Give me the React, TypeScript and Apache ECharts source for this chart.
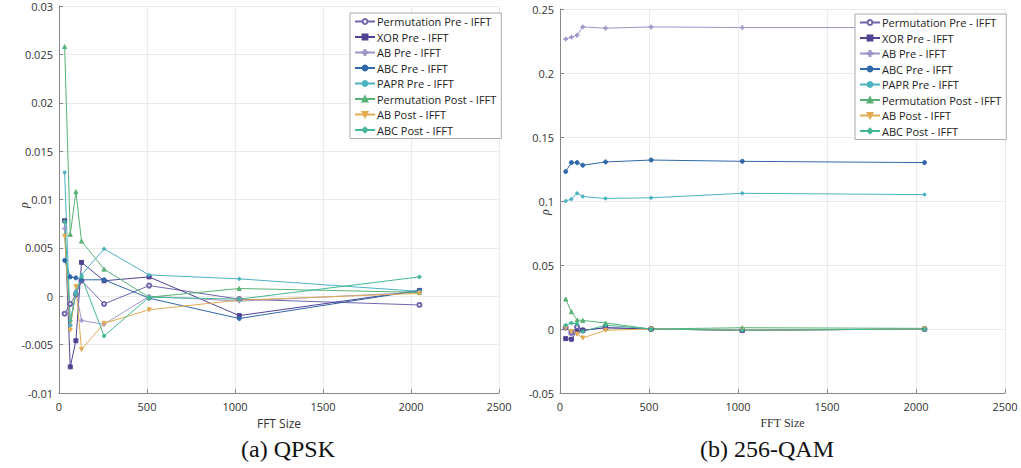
import React, { useEffect, useRef } from "react";
import * as echarts from "echarts";

const FFT_SIZES = [32, 64, 96, 128, 256, 512, 1024, 2048];
const SERIES_NAMES = [
  "Permutation Pre - IFFT",
  "XOR Pre - IFFT",
  "AB Pre - IFFT",
  "ABC Pre - IFFT",
  "PAPR Pre - IFFT",
  "Permutation Post - IFFT",
  "AB Post - IFFT",
  "ABC Post - IFFT",
];
const COLORS = ["#7065ad", "#4f4394", "#9d96c9", "#3068aa", "#4cb2c0", "#58b275", "#e3ab52", "#43b89a"];
const SYMBOLS = [
  "emptyCircle",
  "rect",
  "path://M4,0H6V4H10V6H6V10H4V6H0V4H4Z",
  "circle",
  "circle",
  "triangle",
  "path://M0,0L10,0L5,10Z",
  "diamond",
];

// QPSK (a)
const QPSK_PERM_PRE = [-0.0018, -0.0008, 0.0002, 0.0016, -0.0008, 0.0011, -0.0003, -0.0009];
const QPSK_XOR_PRE = [0.0078, -0.0073, -0.0046, 0.0035, 0.0016, 0.0020, -0.0020, 0.0006];
const QPSK_AB_PRE = [0.0070, -0.0030, 0.0005, -0.0025, -0.0029, 0.0000, -0.0005, 0.0004];
const QPSK_ABC_PRE = [0.0037, 0.0020, 0.0019, 0.0017, 0.0017, -0.0002, -0.0023, 0.0006];
const QPSK_PAPR_PRE = [0.0128, -0.0030, 0.0005, 0.0022, 0.0049, 0.0022, 0.0018, 0.0005];
const QPSK_PERM_POST = [0.0258, 0.0064, 0.0108, 0.0057, 0.0028, -0.0001, 0.0008, 0.0004];
const QPSK_AB_POST = [0.0062, -0.0035, 0.0010, -0.0055, -0.0028, -0.0014, -0.0004, 0.0003];
const QPSK_ABC_POST = [0.0077, -0.0025, 0.0002, 0.0020, -0.0041, -0.0001, -0.0003, 0.0020];

// 256-QAM (b)
const QAM_PERM_PRE = [0.0010, -0.0030, 0.0015, -0.0010, 0.0010, 0.0000, -0.0010, 0.0000];
const QAM_XOR_PRE = [-0.0075, -0.0080, -0.0020, -0.0010, 0.0010, 0.0000, -0.0010, 0.0000];
const QAM_AB_PRE = [0.2265, 0.2280, 0.2295, 0.2360, 0.2350, 0.2360, 0.2355, 0.2355];
const QAM_ABC_PRE = [0.1230, 0.1300, 0.1300, 0.1280, 0.1305, 0.1320, 0.1310, 0.1300];
const QAM_PAPR_PRE = [0.1000, 0.1015, 0.1060, 0.1035, 0.1020, 0.1025, 0.1060, 0.1050];
const QAM_PERM_POST = [0.0234, 0.0135, 0.0070, 0.0067, 0.0047, 0.0000, 0.0010, 0.0005];
const QAM_AB_POST = [0.0010, -0.0020, -0.0040, -0.0070, -0.0010, 0.0000, -0.0010, 0.0000];
const QAM_ABC_POST = [0.0030, 0.0047, 0.0040, -0.0020, 0.0030, 0.0000, -0.0010, 0.0000];

const QPSK_VALUES = [QPSK_PERM_PRE, QPSK_XOR_PRE, QPSK_AB_PRE, QPSK_ABC_PRE, QPSK_PAPR_PRE, QPSK_PERM_POST, QPSK_AB_POST, QPSK_ABC_POST];
const QAM_VALUES = [QAM_PERM_PRE, QAM_XOR_PRE, QAM_AB_PRE, QAM_ABC_PRE, QAM_PAPR_PRE, QAM_PERM_POST, QAM_AB_POST, QAM_ABC_POST];

const SANS = "'Open Sans', 'Noto Sans', sans-serif";
const SERIF = "'Liberation Serif', 'DejaVu Serif', serif";

function makeX(gridIndex: number, nameFont: string) {
  return {
    type: "value",
    gridIndex,
    min: 0,
    max: 2500,
    interval: 500,
    name: "FFT Size",
    nameLocation: "middle",
    nameGap: 24,
    nameTextStyle: { fontFamily: nameFont, fontSize: 12, color: "#333" },
    axisLine: { show: true, onZero: false, lineStyle: { color: "#888", width: 1 } },
    axisTick: { show: true, inside: true, length: 4, lineStyle: { color: "#888" } },
    axisLabel: { fontFamily: SANS, fontSize: 11, color: "#333", margin: 8, formatter: (v: number) => String(v) },
    splitLine: { show: true, lineStyle: { color: "#ebebeb", width: 1 } },
  };
}

function makeY(gridIndex: number, min: number, max: number, interval: number) {
  return {
    type: "value",
    gridIndex,
    min,
    max,
    interval,
    axisLine: { show: true, onZero: false, lineStyle: { color: "#888", width: 1 } },
    axisTick: { show: true, inside: true, length: 4, lineStyle: { color: "#888" } },
    axisLabel: { fontFamily: SANS, fontSize: 11, color: "#333", margin: 6 },
    splitLine: { show: true, lineStyle: { color: "#ebebeb", width: 1 } },
  };
}

function makeSeries(values: number[][], idx: number) {
  return values.map((vals, i) => ({
    type: "line",
    name: SERIES_NAMES[i],
    xAxisIndex: idx,
    yAxisIndex: idx,
    data: FFT_SIZES.map((x, k) => [x, vals[k]]),
    symbol: SYMBOLS[i],
    symbolSize: i === 4 ? 3 : 4,
    showSymbol: true,
    color: COLORS[i],
    lineStyle: { width: 1, color: COLORS[i] },
    itemStyle: { color: COLORS[i], borderColor: COLORS[i], borderWidth: 1 },
    emphasis: { disabled: true },
  }));
}

function makeLegend(left: number, top: number) {
  return {
    orient: "vertical",
    left,
    top,
    data: SERIES_NAMES,
    itemWidth: 20,
    itemHeight: 6,
    itemGap: 4.5,
    padding: [3, 5, 3, 4],
    backgroundColor: "#fff",
    borderColor: "#aaa",
    borderWidth: 1,
    textStyle: { fontFamily: SANS, fontSize: 11, color: "#222", padding: [0, 0, 0, -3] },
    selectedMode: false,
  };
}

export default function App() {
  const ref = useRef<HTMLDivElement>(null);
  useEffect(() => {
    if (!ref.current) return;
    const chart = echarts.init(ref.current, undefined, { renderer: "svg" });
    chart.setOption({
      animation: false,
      backgroundColor: "#fff",
      grid: [
        { left: 59, right: 1021 - 499, top: 6, bottom: 468 - 393 },
        { left: 560, right: 1021 - 1005, top: 9, bottom: 468 - 393 },
      ],
      xAxis: [makeX(0, SANS), makeX(1, SERIF)],
      yAxis: [makeY(0, -0.01, 0.03, 0.005), makeY(1, -0.05, 0.25, 0.05)],
      legend: [makeLegend(350, 13), makeLegend(855, 14)],
      series: [...makeSeries(QPSK_VALUES, 0), ...makeSeries(QAM_VALUES, 1)],
      graphic: [
        {
          type: "text",
          x: 24,
          y: 205,
          rotation: Math.PI / 2,
          style: { text: "ρ", font: "italic 12px " + SERIF, fill: "#333", textAlign: "center", textVerticalAlign: "middle" },
        },
        {
          type: "text",
          x: 545,
          y: 212,
          rotation: Math.PI / 2,
          style: { text: "ρ", font: "italic 12px " + SERIF, fill: "#333", textAlign: "center", textVerticalAlign: "middle" },
        },
        {
          type: "text",
          x: 288,
          y: 449,
          style: { text: "(a) QPSK", font: "24px " + SERIF, fill: "#111", textAlign: "center", textVerticalAlign: "middle" },
        },
        {
          type: "text",
          x: 767,
          y: 449,
          style: { text: "(b) 256-QAM", font: "24px " + SERIF, fill: "#111", textAlign: "center", textVerticalAlign: "middle" },
        },
      ],
    });
    return () => chart.dispose();
  }, []);
  return <div ref={ref} style={{ position: "fixed", left: 0, top: 0, width: 1021, height: 468 }} />;
}
